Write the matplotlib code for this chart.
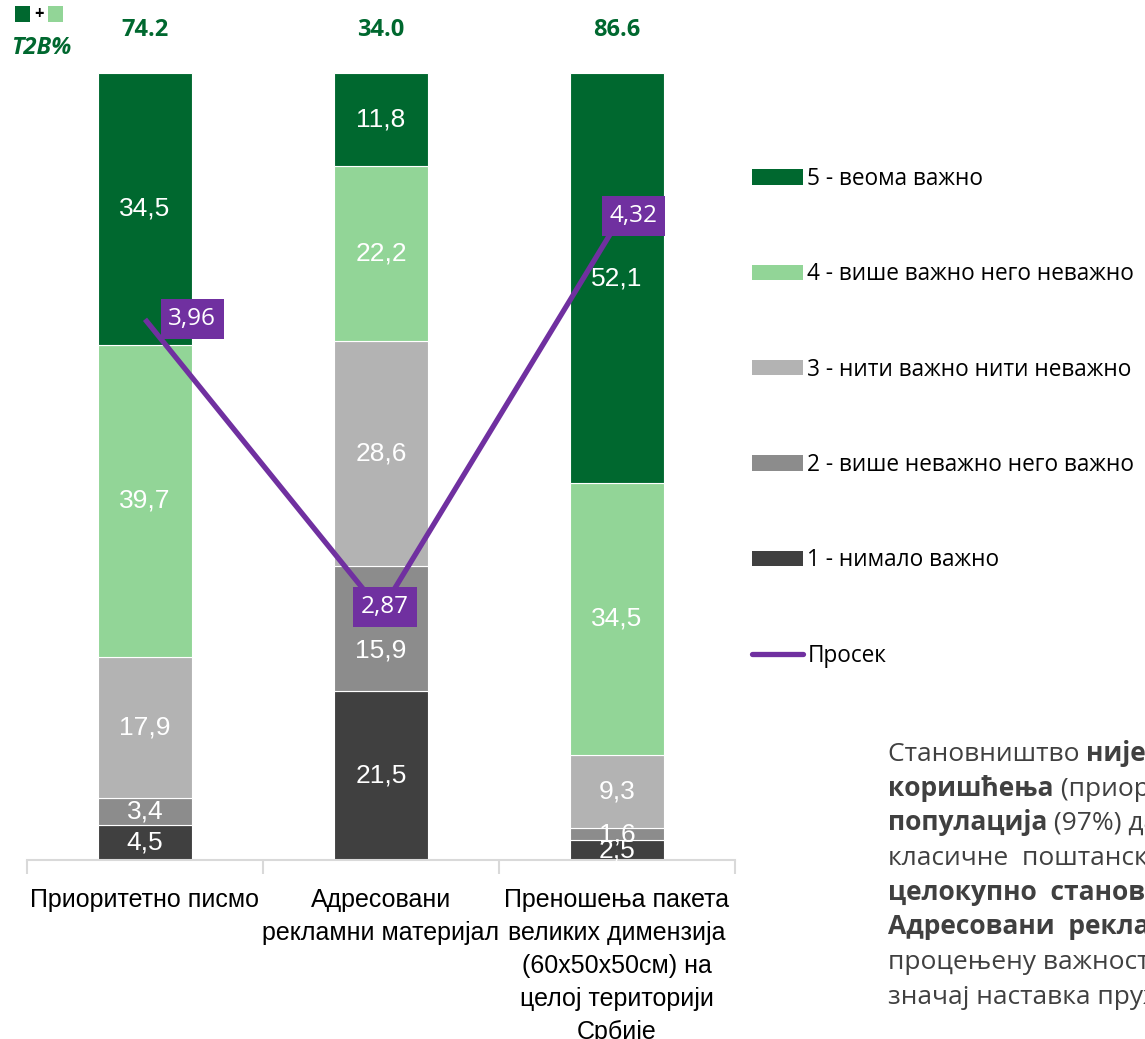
import matplotlib
matplotlib.use("Agg")
import matplotlib.pyplot as plt
from matplotlib.patches import Patch, Rectangle
from matplotlib.lines import Line2D
import numpy as np

# ---------------- data ----------------
categories = ["Приоритетно писмо",
              "Адресовани\nрекламни материјал",
              "Преношења пакета\nвеликих димензија\n(60x50x50см) на\nцелој територији\nСрбије"]
s1 = [4.5, 21.5, 2.5]     # 1 - нимало важно
s2 = [3.4, 15.9, 1.6]     # 2 - више неважно него важно
s3 = [17.9, 28.6, 9.3]    # 3 - нити важно нити неважно
s4 = [39.7, 22.2, 34.5]   # 4 - више важно него неважно
s5 = [34.5, 11.8, 52.1]   # 5 - веома важно
avg = [3.96, 2.87, 4.32]  # Просек
series_labels = ["1 - нимало важно", "2 - више неважно него важно",
                 "3 - нити важно нити неважно", "4 - више важно него неважно",
                 "5 - веома важно"]
avg_label = "Просек"

colors = ["#404040", "#8C8C8C", "#B3B3B3", "#92D597", "#00682F"]
purple = "#7030A0"
dgreen = "#00682F"

NARROW = ["Liberation Sans", "DejaVu Sans"]
OPEN = ["Open Sans", "DejaVu Sans"]

fig = plt.figure(figsize=(11.45, 10.39), dpi=100)
W, H = 1145, 1039
ax = fig.add_axes([27 / W, 179 / H, 708 / W, 787 / H])

x = np.arange(len(categories))
bottom = np.zeros(len(categories))
handles = []
all_labels = []
for vals, col, lab in zip([s1, s2, s3, s4, s5], colors, series_labels):
    bars = ax.bar(x, vals, 0.40, bottom=bottom, color=col, edgecolor="white",
                  linewidth=0.8, label=lab)
    anns = ax.bar_label(bars, labels=[f"{v:.1f}".replace(".", ",") for v in vals],
                        label_type="center", color="white", fontsize=19,
                        family=NARROW)
    all_labels.append(anns)
    bottom += np.array(vals)
    handles.append(Patch(facecolor=col, edgecolor="none"))
# label of 2nd segment of 2nd bar sits lower (clear of the average box)
all_labels[1][1].xyann = (0, -16)

ax.set_xlim(-0.5, 2.5)
ax.set_ylim(0, 100)
for s in ["top", "left", "right"]:
    ax.spines[s].set_visible(False)
ax.spines["bottom"].set_color("#D9D9D9")
ax.spines["bottom"].set_linewidth(1.5)
ax.set_yticks([])
ax.set_xticks(x)
ax.set_xticklabels(categories, fontsize=18, family=NARROW, linespacing=1.47,
                   va="top")
ax.tick_params(axis="x", which="major", length=0, pad=20)
ax.set_xticks([-0.5, 0.5, 1.5, 2.5], minor=True)
ax.tick_params(axis="x", which="minor", length=10, width=1.5, color="#D9D9D9")

# T2B values on top
t2b = np.array(s4) + np.array(s5)
for xi, v in zip(x, t2b):
    ax.text(xi, 1.0546, f"{v:.1f}", transform=ax.get_xaxis_transform(),
            ha="center", va="center", fontsize=17, fontweight="bold",
            color=dgreen, family=OPEN)

# average line on secondary axis
ax2 = ax.twinx()
ax2.set_ylim(1.94, 4.88)
ax2.plot(x, avg, color=purple, lw=3.8, solid_capstyle="butt", zorder=5)
for s in ax2.spines.values():
    s.set_visible(False)
ax2.set_yticks([])
offsets = [(34, 0), (3, 3), (12, 5)]
for xi, v, off in zip(x, avg, offsets):
    ax2.annotate(f"{v:.2f}".replace(".", ","), (xi, v), xytext=off,
                 textcoords="offset points", ha="center", va="center",
                 color="white", fontsize=17.5, family=OPEN, zorder=6,
                 bbox=dict(boxstyle="square,pad=0.32", fc=purple, ec="none"))

# legend
leg_handles = handles[::-1] + [Line2D([], [], color=purple, lw=3.8,
                                      solid_capstyle="round")]
leg_labels = series_labels[::-1] + [avg_label]
fig.legend(leg_handles, leg_labels, loc="upper left",
           bbox_to_anchor=(752 / W, 1 - 167 / H), frameon=False,
           prop=dict(family=OPEN, size=16.3), labelspacing=3.15,
           handlelength=2.25, handleheight=0.66, handletextpad=0.2,
           borderpad=0, borderaxespad=0)

# T2B key top-left
fig.patches.append(Rectangle((15 / W, 1 - 22 / H), 15 / W, 16 / H,
                             transform=fig.transFigure, fc=dgreen, ec="none"))
fig.patches.append(Rectangle((48 / W, 1 - 22 / H), 15 / W, 16 / H,
                             transform=fig.transFigure, fc="#92D597", ec="none"))
fig.text(39 / W, 1 - 14 / H, "+", ha="center", va="center", fontsize=12,
         fontweight="bold", color="black", family=OPEN)
fig.text(41 / W, 1 - 48 / H, "T2B%", ha="center", va="center", fontsize=17,
         fontweight="bold", style="italic", color=dgreen, family=OPEN)

# paragraph text on the right (cut by figure edge)
para = [
    [("Становништво ", "normal"), ("није значајно мења навике", "bold")],
    [("коришћења", "bold"), (" (приоритетно писмо)", "normal")],
    [("популација", "bold"), (" (97%) да је важан", "normal")],
    [("класичне  поштанске услуге", "normal")],
    [("целокупно  становништво", "bold")],
    [("Адресовани  рекламни материјал", "bold")],
    [("процењену важност", "normal")],
    [("значај наставка пружања", "normal")],
]
fig.canvas.draw()
renderer = fig.canvas.get_renderer()
y0 = 761
for i, line in enumerate(para):
    xp = 888
    yb = y0 + i * 34.7
    for txt, wt in line:
        t = fig.text(xp / W, 1 - yb / H, txt, ha="left", va="baseline",
                     fontsize=19, fontweight=wt, color="#404040", family=OPEN)
        bb = t.get_window_extent(renderer)
        xp = bb.x1

fig.savefig("out.png", dpi=100)
